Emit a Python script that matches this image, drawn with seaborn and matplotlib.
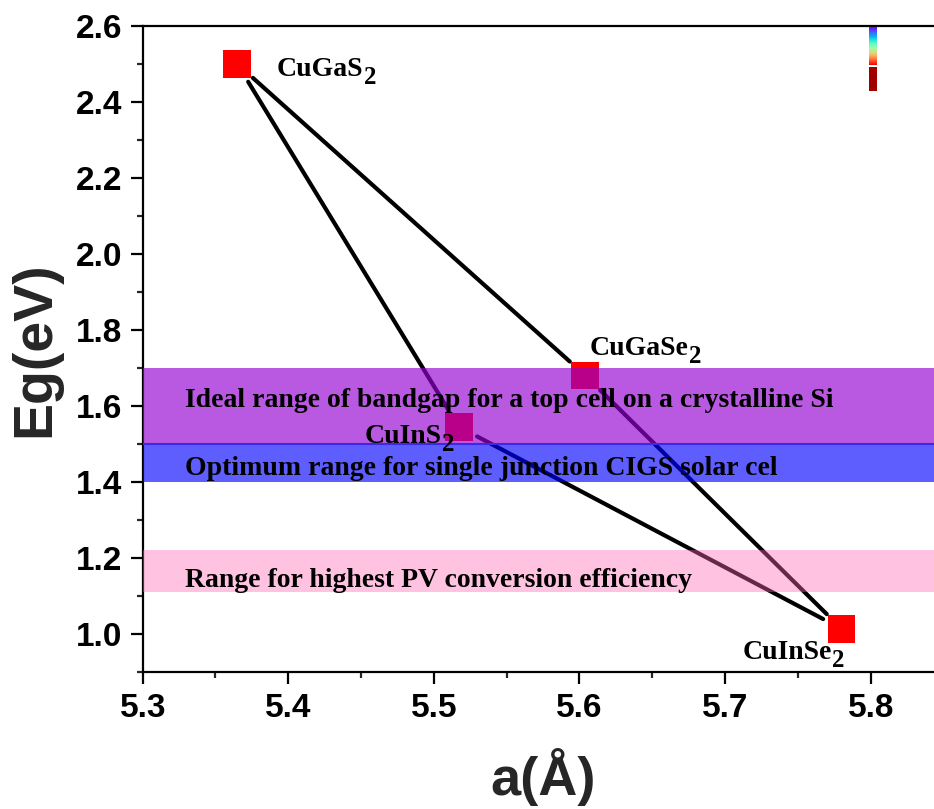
import numpy as np
import pandas as pd
import matplotlib
matplotlib.use("Agg")
import matplotlib.pyplot as plt
from matplotlib.ticker import AutoMinorLocator, FixedLocator
import seaborn as sns

# ---------------- data ----------------
compounds = ["CuGaS", "CuGaSe", "CuInS", "CuInSe"]
compound_sub = ["2", "2", "2", "2"]
lattice_a = [5.365, 5.604, 5.517, 5.780]
band_gap = [2.50, 1.68, 1.545, 1.013]
connections = [(0, 1), (0, 2), (2, 3), (1, 3)]

band_low = [1.50, 1.40, 1.11]
band_high = [1.70, 1.50, 1.22]
band_labels = [
    "Ideal range of bandgap for a top cell on a crystalline Si",
    "Optimum range for single junction CIGS solar cel",
    "Range for highest PV conversion efficiency",
]

x_ticks = [5.3, 5.4, 5.5, 5.6, 5.7, 5.8]
y_ticks = [1.0, 1.2, 1.4, 1.6, 1.8, 2.0, 2.2, 2.4, 2.6]

# ---------------- style / layout ----------------
band_colors = ["#9400D3", "#0000FF", "#FF69B4"]
band_alpha = [0.65, 0.63, 0.40]
band_text_y = [1.597, 1.418, 1.123]
band_text_x = 5.329
label_offsets = [(28.5, -9), (3, 15), (-68, -12), (-71.5, -21.7)]  # points

sns.set_style("ticks")
plt.rcParams["font.family"] = ["Liberation Sans", "DejaVu Sans"]
plt.rcParams["font.weight"] = "bold"

fig = plt.figure(figsize=(9.34, 8.09), dpi=100)
ax = fig.add_axes([142.7 / 934, 1 - 671.7 / 809, 873.6 / 934, 645.7 / 809])

df = pd.DataFrame({"a": lattice_a, "Eg": band_gap, "name": compounds})

# connecting lines (with gaps near markers)
for i, j in connections:
    ax.annotate("", xy=(lattice_a[j], band_gap[j]), xytext=(lattice_a[i], band_gap[i]),
                xycoords="data", textcoords="data",
                arrowprops=dict(arrowstyle="-", color="black", lw=3.0,
                                shrinkA=15, shrinkB=15),
                zorder=2)

sns.scatterplot(data=df, x="a", y="Eg", marker="s", s=400, color="#FF0000",
                edgecolor="none", linewidth=0, ax=ax, zorder=3, legend=False)

# shaded bands
for lo, hi, c, al in zip(band_low, band_high, band_colors, band_alpha):
    ax.axhspan(lo, hi, color=c, alpha=al, lw=0, zorder=4)
ax.axhline(band_high[1], color="#3A2AE8", lw=1.5, zorder=4.5)

for txt, ty in zip(band_labels, band_text_y):
    ax.text(band_text_x, ty, txt, family="Liberation Serif", weight="bold",
            fontsize=20, ha="left", va="baseline", color="black", zorder=6)

# compound labels with full-size subscript
for name, sub, xa, yg, (dx, dy) in zip(compounds, compound_sub, lattice_a, band_gap,
                                       label_offsets):
    t = ax.annotate(name, xy=(xa, yg), xytext=(dx, dy), textcoords="offset points",
                    family="Liberation Serif", weight="bold", fontsize=20,
                    ha="left", va="baseline", color="black", zorder=6)
    ax.annotate(sub, xy=(1, 0), xycoords=t, xytext=(0.5, -5),
                textcoords="offset points", family="Liberation Serif",
                weight="bold", fontsize=18, ha="left", va="bottom",
                color="black", zorder=6)

# small rainbow strip at the top right
ax.imshow(np.linspace(0, 1, 64)[:, None], cmap="rainbow", aspect="auto",
          extent=(5.7988, 5.8041, 2.497, 2.597), zorder=3, interpolation="bilinear")
ax.bar([5.80145], [2.4925 - 2.428], bottom=[2.428], width=0.0053,
       color="#A00000", linewidth=0, zorder=3)

ax.set_xlim(5.3, 5.9)
ax.set_ylim(0.9, 2.6)
ax.xaxis.set_major_locator(FixedLocator(x_ticks))
ax.yaxis.set_major_locator(FixedLocator(y_ticks))
ax.xaxis.set_minor_locator(AutoMinorLocator(2))
ax.yaxis.set_minor_locator(AutoMinorLocator(2))
ax.set_xticklabels([f"{v:.1f}" for v in x_ticks])
ax.set_yticklabels([f"{v:.1f}" for v in y_ticks])

for s in ax.spines.values():
    s.set_linewidth(1.6)
    s.set_color("black")
ax.tick_params(which="major", direction="out", length=8.5, width=1.6,
               labelsize=24, colors="black")
ax.tick_params(axis="y", which="major", pad=6)
ax.tick_params(axis="x", which="major", pad=7)
ax.tick_params(which="minor", direction="out", length=4.5, width=1.6)
for lab in ax.get_xticklabels() + ax.get_yticklabels():
    lab.set_fontweight("bold")

ax.set_xlabel("a(Å)", fontsize=39, fontweight="bold")
ax.set_ylabel("Eg(eV)", fontsize=40, fontweight="bold")
ax.xaxis.set_label_coords(0.458, -0.118)
ax.yaxis.set_label_coords(-0.0927, 0.5)

ax.grid(False)
ax.set_facecolor("white")
fig.savefig("out.png", dpi=100)
